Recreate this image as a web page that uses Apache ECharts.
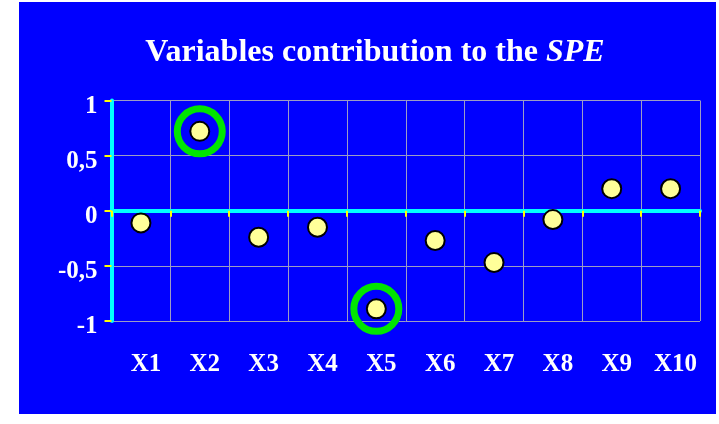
<!DOCTYPE html>
<html>
<head>
<meta charset="utf-8">
<script src="https://cdn.jsdelivr.net/npm/echarts@6/dist/echarts.min.js"></script>
<style>
  html, body { margin: 0; padding: 0; background: #ffffff; }
  #chart { width: 719px; height: 424px; }
</style>
</head>
<body>
<div id="chart"></div>
<script>
// Contribution of each variable to the squared prediction error
const categories = ['X1', 'X2', 'X3', 'X4', 'X5', 'X6', 'X7', 'X8', 'X9', 'X10'];
const contributions = [-0.11, 0.72, -0.24, -0.15, -0.89, -0.27, -0.47, -0.08, 0.2, 0.2];
// Variables flagged as main contributors
const flagged = ['X2', 'X5'];
const yTicks = { min: -1, max: 1, interval: 0.5 };

const serif = '"Liberation Serif", "Times New Roman", serif';
const gridColor = '#9c9cc4';

const chart = echarts.init(document.getElementById('chart'), null, { renderer: 'canvas' });

const flaggedData = categories.map((c, i) => (flagged.includes(c) ? contributions[i] : '-'));

chart.setOption({
  backgroundColor: '#ffffff',
  animation: false,
  graphic: [{
    type: 'rect',
    z: -10,
    shape: { x: 19, y: 2, width: 697, height: 412 },
    style: { fill: '#0000ff' }
  }],
  title: {
    text: '{a|Variables contribution to the }{b|SPE}',
    left: 370,
    textAlign: 'center',
    top: 32,
    textStyle: {
      rich: {
        a: { fontFamily: serif, fontWeight: 'bold', fontSize: 32, color: '#ffffff' },
        b: { fontFamily: serif, fontWeight: 'bold', fontStyle: 'italic', fontSize: 32, color: '#ffffff' }
      }
    }
  },
  grid: {
    left: 111.5, right: 19, top: 100.5, bottom: 103,
    containLabel: false,
    outerBoundsMode: 'none'
  },
  xAxis: [
    {
      // zero line with its tick marks
      type: 'category',
      data: categories,
      position: 'bottom',
      boundaryGap: true,
      axisLine: { onZero: true, lineStyle: { color: '#00ffff', width: 4 } },
      axisTick: { show: true, inside: false, length: 6, lineStyle: { color: '#ffff00', width: 2 } },
      axisLabel: { show: false },
      splitLine: { show: true, lineStyle: { color: gridColor, width: 1 } }
    },
    {
      // category names along the bottom edge
      type: 'category',
      data: categories,
      position: 'bottom',
      boundaryGap: true,
      axisLine: { show: false, onZero: false },
      axisTick: { show: false },
      splitLine: { show: false },
      axisLabel: {
        show: true,
        margin: 31,
        color: '#ffffff',
        fontFamily: serif,
        fontWeight: 'bold',
        fontSize: 25,
        padding: [0, 0, 0, 10],
        interval: 0
      }
    }
  ],
  yAxis: {
    type: 'value',
    min: yTicks.min,
    max: yTicks.max,
    interval: yTicks.interval,
    axisLine: { show: true, onZero: false, lineStyle: { color: '#00ffff', width: 4 } },
    axisTick: { show: true, inside: false, length: 7, lineStyle: { color: '#ffff00', width: 2 } },
    axisLabel: {
      margin: 14,
      color: '#ffffff',
      fontFamily: serif,
      fontWeight: 'bold',
      fontSize: 25,
      verticalAlign: 'top',
      lineHeight: 12,
      formatter: v => String(v).replace('.', ',')
    },
    splitLine: { show: true, lineStyle: { color: gridColor, width: 1 } }
  },
  series: [
    {
      name: 'contribution',
      type: 'scatter',
      data: contributions,
      xAxisIndex: 0,
      symbol: 'circle',
      symbolSize: 19,
      z: 5,
      itemStyle: { color: '#ffff99', borderColor: '#000000', borderWidth: 2, opacity: 1 }
    },
    {
      name: 'flagged',
      type: 'scatter',
      data: flaggedData,
      xAxisIndex: 0,
      symbol: 'circle',
      symbolSize: 45,
      z: 4,
      silent: true,
      itemStyle: { color: 'rgba(0,0,0,0)', borderColor: '#00e600', borderWidth: 7, opacity: 1 }
    }
  ]
});
</script>
</body>
</html>
